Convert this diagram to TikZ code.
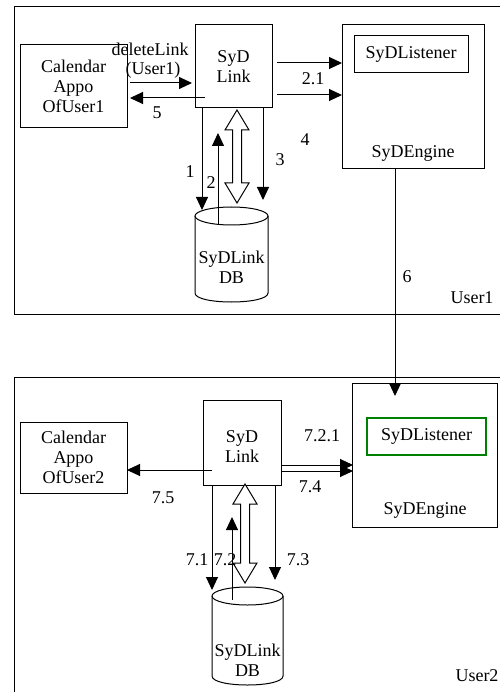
\documentclass[tikz,border=0pt]{standalone}
\usepackage{fontspec}
\setmainfont{Liberation Serif}
\usetikzlibrary{arrows.meta}
\definecolor{lisgreen}{RGB}{0,128,0}
\tikzset{pics/hollowarr/.style={code={\draw[line width=1pt, fill=white] (0,0) -- (12,20) -- (4.5,20) -- (4.5,{#1-20}) -- (12,{#1-20}) -- (0,#1) -- (-12,{#1-20}) -- (-4.5,{#1-20}) -- (-4.5,20) -- (-12,20) -- cycle;}}}
\begin{document}
\begin{tikzpicture}[x=1pt,y=-1pt,
  every node/.style={font=\fontsize{18}{20}\selectfont, inner sep=0pt, align=center},
  box/.style={draw, line width=1pt},
  arr/.style={line width=1pt, -{Triangle[length=13pt,width=12pt]}},
  cyl/.style={draw, line width=1pt, fill=white}
]
\useasboundingbox (0,0) rectangle (500,692);
% frames
\draw[line width=1pt] (500,7) -- (14,7) -- (14,314) -- (500,314);
\draw[line width=1pt] (500,377) -- (14,377) -- (14,692);

% ---------- User1 ----------
\node[box, minimum width=107, minimum height=83] (cal1) at (73.5,86.5) {Calendar\\Appo\\OfUser1};
\node[box, minimum width=77, minimum height=83] (link1) at (233.5,66.5) {SyD\\Link};
\node[box, minimum width=142, minimum height=144] (eng1) at (413,97) {};
\node[box, minimum width=114, minimum height=37] (lis1) at (411,54.5) {SyDListener};
\node (engl1) at (413,153) {SyDEngine};
% cylinder 1
\draw[cyl] (195,216) -- (195,293) .. controls (195,305) and (268,305) .. (268,293) -- (268,216);
\draw[line width=1pt] (231.5,216) ellipse [x radius=36.5pt, y radius=9pt];
\node (db1) at (231.5,267) {SyDLink\\DB};

\coordinate (p1a) at (130,83);  \coordinate (p1b) at (192,83);
\coordinate (p5a) at (205,98);  \coordinate (p5b) at (130,98);
\coordinate (p21a) at (277,63); \coordinate (p21b) at (342,63);
\coordinate (p4a) at (277,95);  \coordinate (p4b) at (342,95);
\coordinate (q1a) at (202,108); \coordinate (q1b) at (202,210);
\coordinate (q2a) at (218,225); \coordinate (q2b) at (218,133);
\coordinate (q3a) at (263,108); \coordinate (q3b) at (263,200);
\coordinate (q6a) at (395,169); \coordinate (q6b) at (395,396);

\draw[arr] (p1a) -- (p1b);
\draw[arr] (p5a) -- (p5b);
\draw[arr] (p21a) -- (p21b);
\draw[arr] (p4a) -- (p4b);
\draw[arr] (q1a) -- (q1b);
\draw[arr] (q2a) -- (q2b);
\draw[arr] (q3a) -- (q3b);
\pic at (237,110) {hollowarr=93};

\node (l_del) at (150,49) {deleteLink};
\node (l_u1) at (153,70) {(User1)};
\node (l5) at (157,113) {5};
\node (l1) at (190,172) {1};
\node (l2) at (211,183) {2};
\node (l3) at (280,160) {3};
\node (l4) at (305,140) {4};
\node (l21) at (313,79) {2.1};
\node (l6) at (407,277) {6};
\node (lu1) at (472,298) {User1};

% ---------- User2 ----------
\node[box, minimum width=107, minimum height=71] (cal2) at (73.5,457.5) {Calendar\\Appo\\OfUser2};
\node[box, minimum width=78, minimum height=85] (link2) at (242,442.5) {};
\node (link2t) at (242,447) {SyD\\Link};
\node[box, minimum width=145, minimum height=144] (eng2) at (424.5,455) {};
\node[box, draw=lisgreen, line width=2pt, minimum width=119, minimum height=37] (lis2) at (426.5,436.5) {SyDListener};
\node (engl2) at (425,510) {SyDEngine};
% cylinder 2
\draw[cyl] (212,596) -- (212,676) .. controls (212,688) and (283,688) .. (283,676) -- (283,596);
\draw[line width=1pt] (247.5,596) ellipse [x radius=35.5pt, y radius=9pt];
\node (db2) at (247.5,660) {SyDLink\\DB};

\draw[arr] (q6a) -- (q6b);

\coordinate (r75a) at (212,470); \coordinate (r75b) at (127,470);
\coordinate (r721a) at (282,465); \coordinate (r721b) at (353,465);
\coordinate (r74a) at (282,471); \coordinate (r74b) at (353,471);
\coordinate (s71a) at (212,485); \coordinate (s71b) at (212,590);
\coordinate (s72a) at (232,600); \coordinate (s72b) at (232,517);
\coordinate (s73a) at (275,485); \coordinate (s73b) at (275,580);

\draw[arr] (r75a) -- (r75b);
\draw[arr] (r721a) -- (r721b);
\draw[arr] (r74a) -- (r74b);
\draw[arr] (s71a) -- (s71b);
\draw[arr] (s72a) -- (s72b);
\draw[arr] (s73a) -- (s73b);
\pic at (245,484) {hollowarr=99};

\node (l75) at (163,498) {7.5};
\node (l71) at (197,560) {7.1};
\node (l72) at (225,560) {7.2};
\node (l73) at (298,560) {7.3};
\node (l721) at (322,436) {7.2.1};
\node (l74) at (310,487) {7.4};
\node (lu2) at (477,676) {User2};
\end{tikzpicture}
\end{document}
